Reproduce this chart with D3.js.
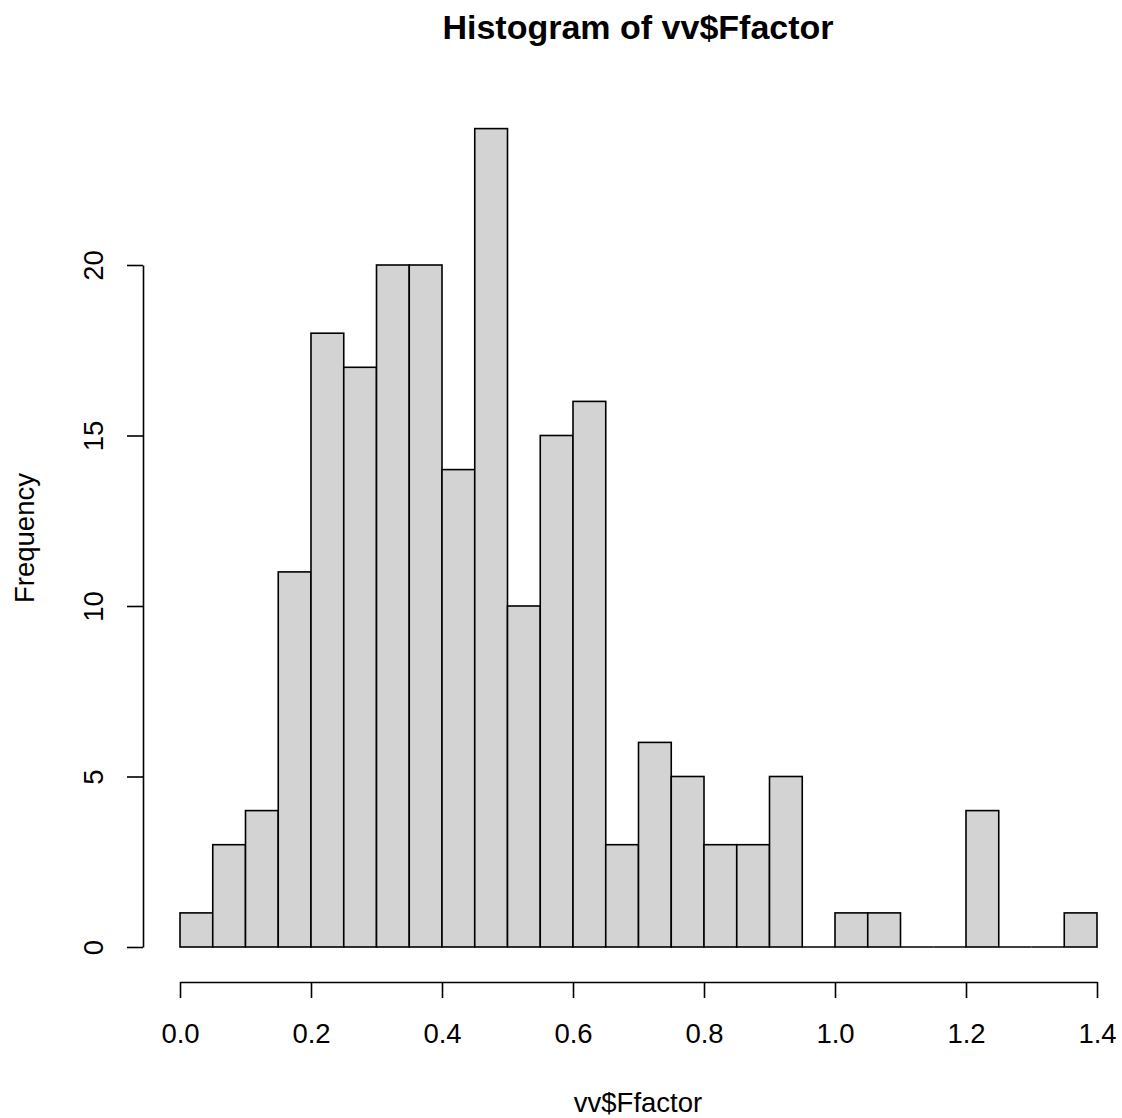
<!DOCTYPE html>
<html>
<head>
<meta charset="utf-8">
<script src="https://cdn.jsdelivr.net/npm/d3@7"></script>
<style>
  body { margin: 0; background: #fff; }
  text { font-family: "Liberation Sans", Arial, sans-serif; fill: #000; }
</style>
</head>
<body>
<svg id="chart"></svg>
<script>
// bin edges (width 0.05) and counts
const binStarts = [0.00, 0.05, 0.10, 0.15, 0.20, 0.25, 0.30, 0.35, 0.40, 0.45,
                   0.50, 0.55, 0.60, 0.65, 0.70, 0.75, 0.80, 0.85, 0.90, 0.95,
                   1.00, 1.05, 1.10, 1.15, 1.20, 1.25, 1.30, 1.35];
const counts = [1, 3, 4, 11, 18, 17, 20, 20, 14, 24,
                10, 15, 16, 3, 6, 5, 3, 3, 5, 0,
                1, 1, 0, 0, 4, 0, 0, 1];
const binWidth = 0.05;
const xTicks = [0, 0.2, 0.4, 0.6, 0.8, 1.0, 1.2, 1.4];
const yTicks = [0, 5, 10, 15, 20];

const W = 1122, H = 1118;
const svg = d3.select('#chart').attr('width', W).attr('height', H);

const x = d3.scaleLinear().domain([0, 1.4]).range([180, 1097]);
const y = d3.scaleLinear().domain([0, 20]).range([947, 265]);

const data = binStarts.map((s, i) => ({ x0: s, x1: s + binWidth, n: counts[i] }));

// bars
let bars = svg.append('g');

bars.selectAll('rect')
  .data(data.filter((d) => d.n > 0))
  .enter().append('rect')
    .attr('x', (d) => x(d.x0))
    .attr('y', (d) => y(d.n))
    .attr('width', (d) => x(d.x1) - x(d.x0))
    .attr('height', (d) => y(0) - y(d.n))
    .attr('fill', '#d3d3d3')
    .attr('stroke', '#000')
    .attr('stroke-width', 1.6);

// empty bins still show as a flat line at zero
bars.selectAll('line')
  .data(data.filter((d) => d.n === 0))
  .enter().append('line')
    .attr('x1', (d) => x(d.x0))
    .attr('x2', (d) => x(d.x1))
    .attr('y1', y(0))
    .attr('y2', y(0))
    .attr('stroke', '#000')
    .attr('stroke-width', 1.6);

// X axis
let xAxis = svg.append('g')
  .attr('transform', 'translate(0, 982)')
  .call(d3.axisBottom(x).tickValues(xTicks).tickFormat(d3.format('.1f')).tickSizeInner(16).tickSizeOuter(0).tickPadding(25));

// Y axis
let yAxis = svg.append('g')
  .attr('transform', 'translate(143, 0)')
  .call(d3.axisLeft(y).tickValues(yTicks).tickSizeInner(16).tickSizeOuter(0));

[xAxis, yAxis].forEach((g) => {
  g.select('.domain').attr('stroke', '#000').attr('stroke-width', 1.6);
  g.selectAll('.tick line').attr('stroke', '#000').attr('stroke-width', 1.6);
  g.selectAll('text').attr('font-size', 27.5).attr('font-family', '"Liberation Sans", Arial, sans-serif').attr('fill', '#000');
});

yAxis.selectAll('.tick text')
  .attr('x', 0).attr('dy', 0)
  .attr('text-anchor', 'middle')
  .attr('transform', 'translate(-40, 0) rotate(-90)');

// titles
svg.append('text')
  .attr('x', 638).attr('y', 39)
  .attr('text-anchor', 'middle')
  .attr('font-size', 34).attr('font-weight', 'bold')
  .text('Histogram of vv$Ffactor');

svg.append('text')
  .attr('x', 638).attr('y', 1112)
  .attr('text-anchor', 'middle')
  .attr('font-size', 27.5)
  .text('vv$Ffactor');

svg.append('text')
  .attr('transform', 'translate(34, 538) rotate(-90)')
  .attr('text-anchor', 'middle')
  .attr('font-size', 27.5)
  .text('Frequency');
</script>
</body>
</html>
